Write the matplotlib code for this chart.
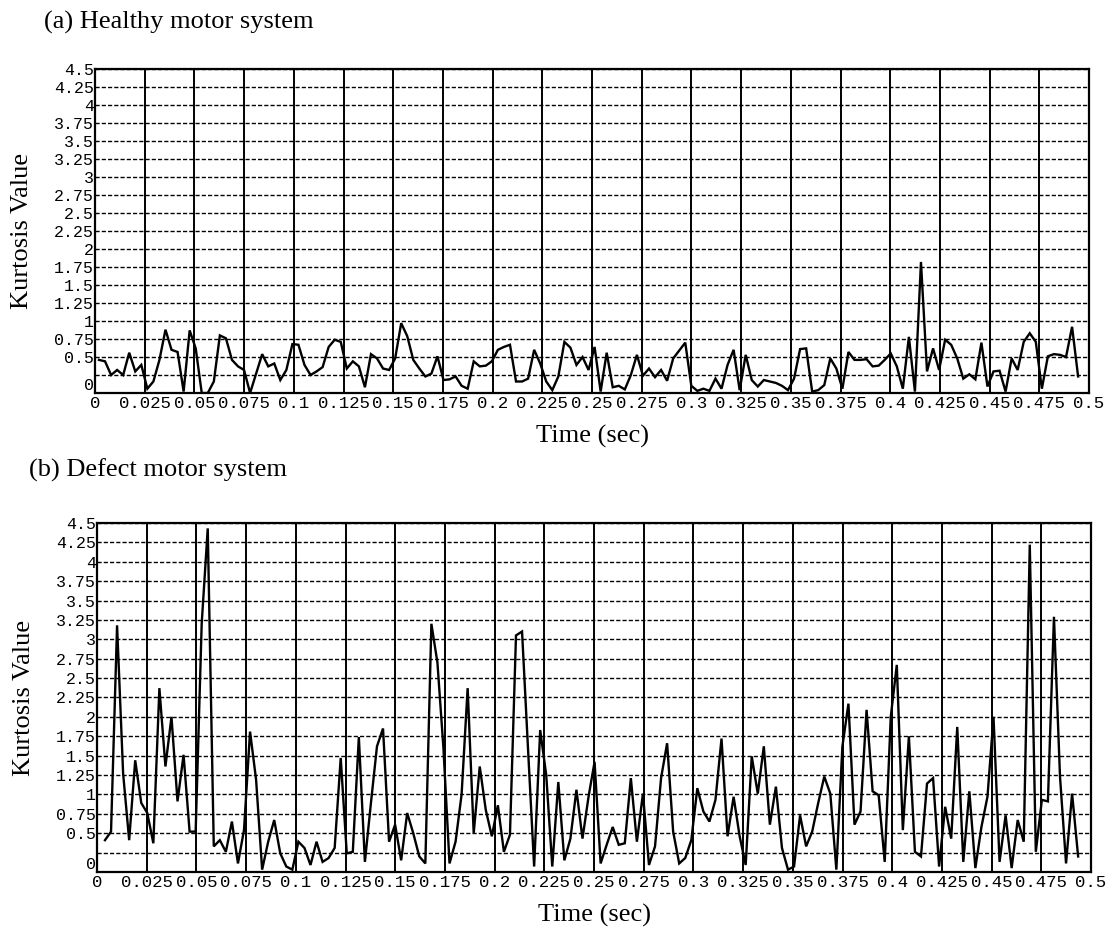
import numpy as np
import matplotlib.pyplot as plt
from matplotlib.transforms import ScaledTranslation

# first / last sample time of each record (sec); samples are evenly spaced
healthy_t0, healthy_t1 = 0.002, 0.4945
defect_t0, defect_t1 = 0.004, 0.4935

healthy_kurtosis = [
    0.46, 0.44, 0.25, 0.32, 0.25, 0.56, 0.30, 0.39, 0.06, 0.16, 0.46, 0.88, 0.60, 0.57,
    0.02, 0.87, 0.62, 0.00, 0.00, 0.16, 0.80, 0.76, 0.46, 0.37, 0.32, 0.00, 0.27, 0.54,
    0.37, 0.41, 0.18, 0.32, 0.68, 0.67, 0.39, 0.25, 0.30, 0.36, 0.64, 0.74, 0.71, 0.34,
    0.44, 0.37, 0.08, 0.54, 0.48, 0.34, 0.32, 0.48, 0.97, 0.79, 0.46, 0.34, 0.23,
    0.27, 0.51, 0.18, 0.19, 0.23, 0.10, 0.06, 0.44, 0.37, 0.38, 0.44, 0.60, 0.64, 0.67,
    0.16, 0.16, 0.20, 0.60, 0.41, 0.16, 0.04, 0.23, 0.71, 0.63, 0.39, 0.50, 0.32, 0.64,
    0.02, 0.56, 0.08, 0.10, 0.05, 0.25, 0.53, 0.24, 0.34, 0.22, 0.32, 0.17, 0.48, 0.59,
    0.70, 0.10, 0.03, 0.06, 0.03, 0.20, 0.06, 0.39, 0.60, 0.04, 0.53, 0.18, 0.09,
    0.18, 0.16, 0.14, 0.10, 0.04, 0.20, 0.61, 0.62, 0.02, 0.04, 0.11, 0.48, 0.34, 0.06,
    0.57, 0.46, 0.46, 0.47, 0.37, 0.38, 0.46, 0.55, 0.37, 0.06, 0.78, 0.02, 1.82, 0.30,
    0.62, 0.32, 0.74, 0.67, 0.48, 0.20, 0.26, 0.19, 0.70, 0.09, 0.30, 0.31, 0.02, 0.48,
    0.32, 0.71, 0.83, 0.71, 0.06, 0.51, 0.54, 0.53, 0.50, 0.92, 0.23,
]

defect_kurtosis = [
    0.41, 0.52, 3.18, 1.27, 0.41, 1.44, 0.89, 0.76, 0.37, 2.37, 1.36, 2.00, 0.91, 1.51,
    0.52, 0.52, 3.20, 4.43, 0.33, 0.41, 0.26, 0.65, 0.11, 0.54, 1.81, 1.19, 0.03, 0.39,
    0.67, 0.24, 0.07, 0.03, 0.39, 0.31, 0.09, 0.39, 0.13, 0.18, 0.31, 1.47, 0.24, 0.26,
    1.74, 0.13, 0.89, 1.62, 1.85, 0.39, 0.61, 0.15, 0.76, 0.50,
    0.20, 0.11,
    3.20, 2.70, 1.59, 0.11, 0.39, 1.00, 2.37, 0.50, 1.36, 0.80, 0.46, 0.86, 0.26, 0.48,
    3.05, 3.10, 1.57, 0.07, 1.83, 1.25, 0.07, 1.16, 0.15, 0.43, 1.06, 0.43, 0.97, 1.42,
    0.11, 0.35, 0.58, 0.35, 0.37, 1.21, 0.39, 1.01, 0.09, 0.33, 1.21, 1.66, 0.52, 0.11,
    0.18, 0.41, 1.08, 0.78, 0.65, 0.93, 1.72, 0.46, 0.97, 0.46, 0.09, 1.49, 1.01,
    1.62, 0.61, 1.10, 0.31, 0.03, 0.07, 0.73, 0.33, 0.52, 0.89, 1.23, 1.01, 0.03, 1.62,
    2.17, 0.61, 0.78, 2.09, 1.04, 0.99, 0.13, 2.00, 2.67, 0.54, 1.75, 0.26, 0.20, 1.14,
    1.21, 0.07, 0.84, 0.43, 1.87, 0.13, 1.04, 0.05, 0.58, 0.97, 2.00, 0.13, 0.73, 0.05,
    0.67, 0.39, 4.22, 0.26, 0.93, 0.91, 3.29, 1.23, 0.11, 1.01, 0.20,
]

x_ticks = [0, 0.025, 0.05, 0.075, 0.1, 0.125, 0.15, 0.175, 0.2, 0.225, 0.25,
           0.275, 0.3, 0.325, 0.35, 0.375, 0.4, 0.425, 0.45, 0.475, 0.5]
x_tick_labels = ["0", "0.025", "0.05", "0.075", "0.1", "0.125", "0.15", "0.175", "0.2",
                 "0.225", "0.25", "0.275", "0.3", "0.325", "0.35", "0.375", "0.4",
                 "0.425", "0.45", "0.475", "0.5"]
y_ticks = [0, 0.25, 0.5, 0.75, 1, 1.25, 1.5, 1.75, 2, 2.25, 2.5, 2.75, 3, 3.25, 3.5,
           3.75, 4, 4.25, 4.5]
y_tick_labels = ["0", "", "0.5", "0.75", "1", "1.25", "1.5", "1.75", "2", "2.25", "2.5",
                 "2.75", "3", "3.25", "3.5", "3.75", "4", "4.25", "4.5"]

SERIF = "Liberation Serif"
MONO = "Liberation Mono"

fig = plt.figure(figsize=(11.14, 9.30), dpi=100)


def draw_panel(ax, t, k):
    ax.plot(t, k, color="black", lw=1.7, solid_joinstyle="miter", zorder=3)
    ax.set_xlim(0, 0.5)
    ax.set_ylim(0, 4.5)
    ax.set_xticks(x_ticks)
    ax.set_xticklabels(x_tick_labels, family=MONO, fontsize=12.5)
    ax.set_yticks(y_ticks)
    ax.set_yticklabels(y_tick_labels, family=MONO, fontsize=12)
    ax.tick_params(length=0, pad=2)
    ax.tick_params(axis="y", pad=1)
    ax.grid(axis="x", color="black", lw=1.4, ls="-")
    ax.grid(axis="y", color="black", lw=1.0, ls=(0, (3, 1.5)))
    for sp in ax.spines.values():
        sp.set_linewidth(1.6)
    # the "0" label sits a little above the baseline in the original
    lab = ax.get_yticklabels()[0]
    lab.set_transform(lab.get_transform() + ScaledTranslation(0, 0.09, fig.dpi_scale_trans))
    ax.set_ylabel("Kurtosis Value", family=SERIF, fontsize=19, labelpad=15)
    ax.set_xlabel("Time (sec)", family=SERIF, fontsize=19, labelpad=10)


ax1 = fig.add_axes([0.0853, 0.5774, 0.8923, 0.3484])
ax2 = fig.add_axes([0.0871, 0.0624, 0.8923, 0.3753])

t_healthy = np.linspace(healthy_t0, healthy_t1, len(healthy_kurtosis))
t_defect = np.linspace(defect_t0, defect_t1, len(defect_kurtosis))

draw_panel(ax1, t_healthy, healthy_kurtosis)
draw_panel(ax2, t_defect, defect_kurtosis)

fig.text(0.0395, 0.976, "(a) Healthy motor system", family=SERIF, fontsize=19, va="center")
fig.text(0.026, 0.4946, "(b) Defect motor system", family=SERIF, fontsize=19, va="center")

fig.savefig("out.png", dpi=100)
